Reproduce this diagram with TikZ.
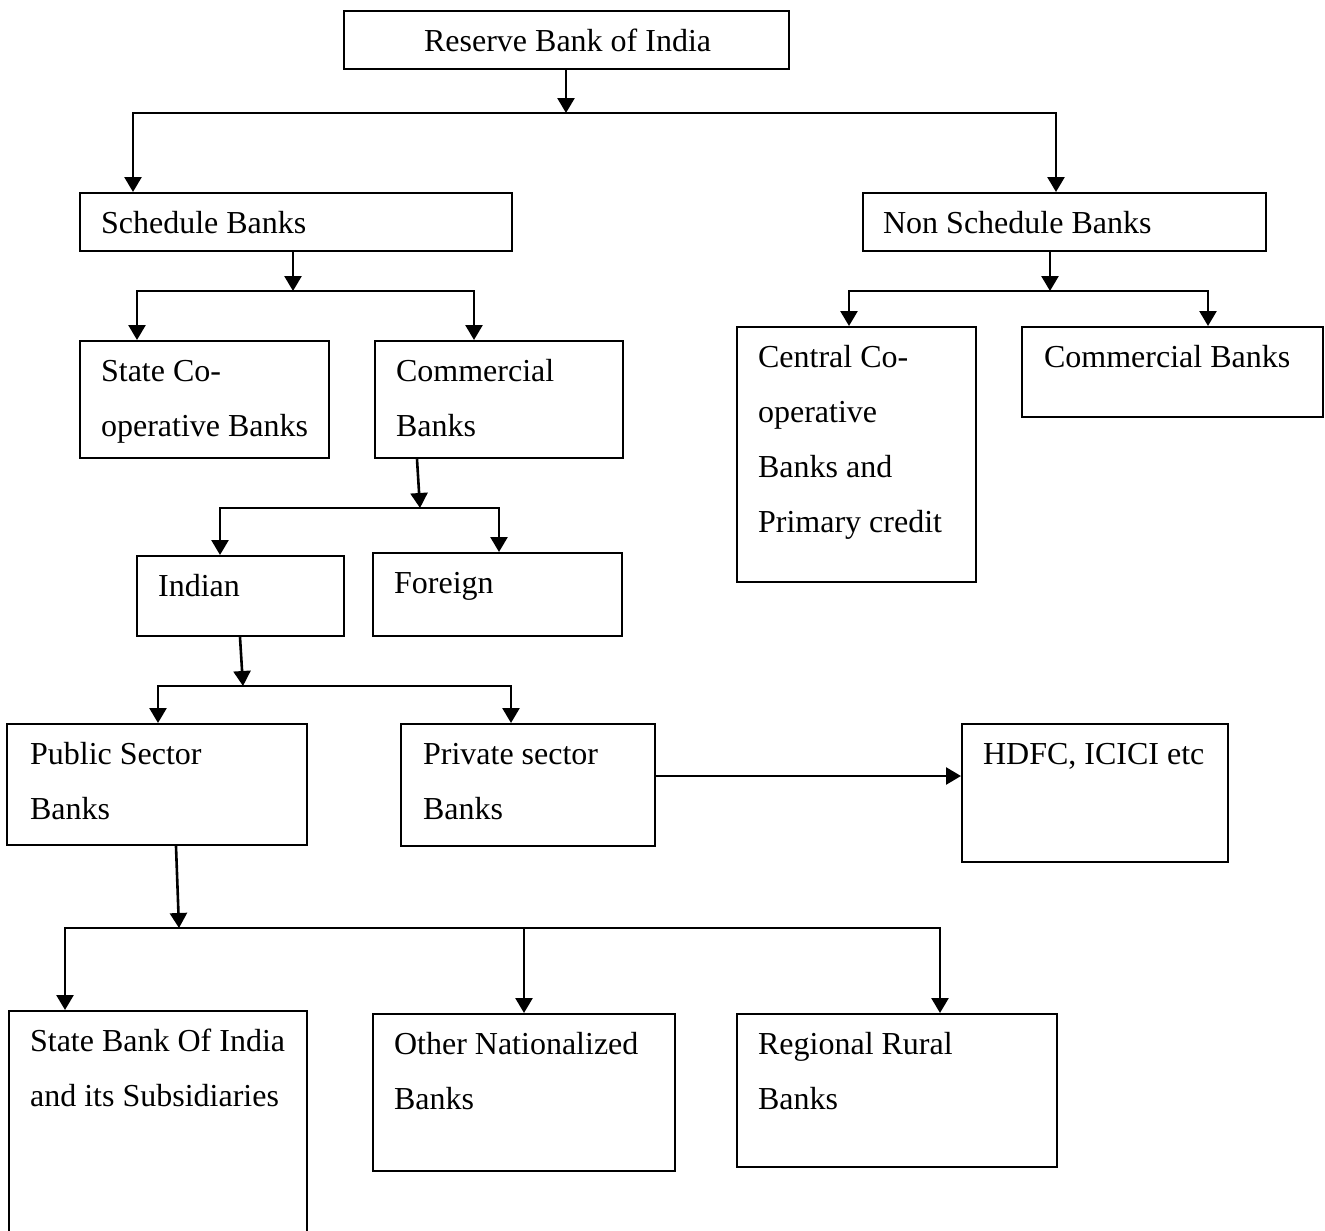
\documentclass[tikz,border=0pt]{standalone}
\usepackage{fontspec}
\setmainfont{Liberation Serif}
\usetikzlibrary{arrows.meta}
% text of a box: width, height, left indent, lines
\newcommand{\bankbox}[4]{\parbox[t][#2pt][t]{#1pt}{\raggedright\leftskip=#3pt\parindent=0pt\rule{0pt}{40pt}#4}}

\begin{document}
\begin{tikzpicture}[x=1pt, y=-1pt, >={Triangle[length=15pt,width=17pt]},
  bank/.style={draw, line width=2.2pt, anchor=north west, inner sep=0pt,
    font=\fontsize{32}{55}\selectfont},
  link/.style={line width=2.6pt}]
\useasboundingbox (0,0) rectangle (1325,1231);
\foreach \m/\x/\y/\w/\h/\i/\l in {
  rbi/343/10/445/58/80/{Reserve Bank of India},
  sched/79/192/432/58/21/{Schedule Banks},
  nsched/862/192/403/58/20/{Non Schedule Banks},
  stco/79/340/249/117/21/{State Co-\\operative Banks},
  comm/374/340/248/117/21/{Commercial\\Banks},
  central/736/326/239/255/21/{Central Co-\\operative\\Banks and\\Primary credit},
  ncomm/1021/326/301/90/22/{Commercial Banks},
  indian/136/555/207/80/21/{Indian},
  foreign/372/552/249/83/21/{Foreign},
  public/6/723/300/121/23/{Public Sector\\Banks},
  private/400/723/254/122/22/{Private sector\\Banks},
  hdfc/961/723/266/138/21/{HDFC, ICICI etc},
  sbi/8/1010/298/240/21/{State Bank Of India\\and its Subsidiaries},
  other/372/1013/302/157/21/{Other Nationalized\\Banks},
  regional/736/1013/320/153/21/{Regional Rural\\Banks}}
  \node [bank] (\m) at (\x,\y) {\bankbox{\w}{\h}{\i}{\l}};
% stems down to the bars
\foreach \m/\o/\x/\y in {rbi/223/566/113, sched/214/293/291, nsched/188/1050/291,
    comm/43/420/508, indian/104/243/686, public/170/179/928} {
  \coordinate (\m-j) at (\x,\y);
  \draw [link,->] ([xshift=\o]\m.south west) -- (\m-j);
}
% bars and arrows to the children
\foreach \m/\c/\o in {rbi/sched/54, rbi/nsched/194, sched/stco/58, sched/comm/100,
    nsched/central/113, nsched/ncomm/187, comm/indian/84, comm/foreign/127,
    indian/public/152, indian/private/111, public/sbi/57, public/other/152,
    public/regional/204}
  \draw [link,->] (\m-j) -| ([xshift=\o]\c.north west);
\draw [link,->] ([yshift=-53]private.north east) -- ([yshift=-53]hdfc.north west);
\end{tikzpicture}
\end{document}
